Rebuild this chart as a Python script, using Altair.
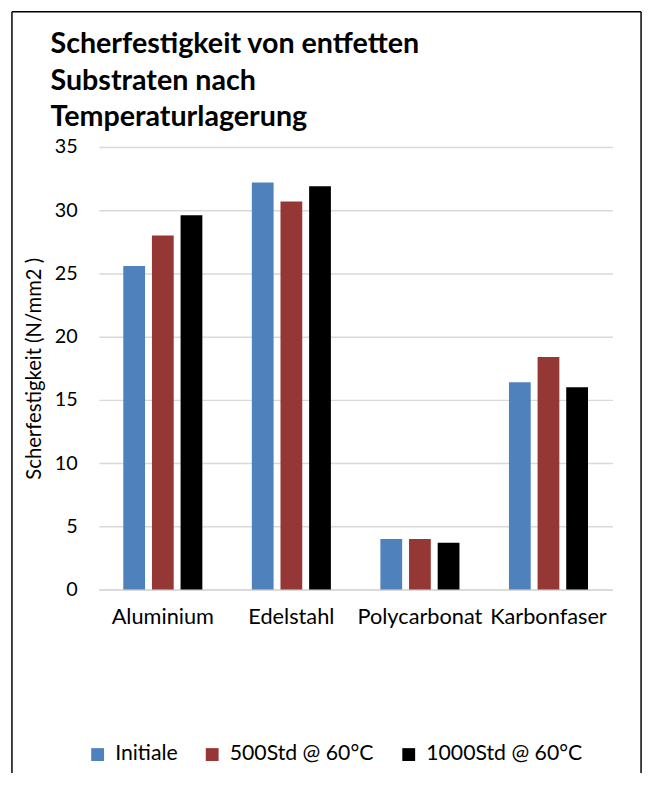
import altair as alt
import pandas as pd

categories = ["Aluminium", "Edelstahl", "Polycarbonat", "Karbonfaser"]
series = ["Initiale", "500Std @ 60°C", "1000Std @ 60°C"]
initiale = [25.6, 32.2, 4.0, 16.4]
std500 = [28.0, 30.7, 4.0, 18.4]
std1000 = [29.6, 31.9, 3.7, 16.0]
colors = ["#4F81BD", "#953735", "#000000"]
title_lines = ["Scherfestigkeit von entfetten", "Substraten  nach", "Temperaturlagerung"]

rows = []
for s, vals in zip(series, [initiale, std500, std1000]):
    for c, v in zip(categories, vals):
        rows.append({"Substrat": c, "Serie": s, "Wert": v})
df = pd.DataFrame(rows)

FONT = "Lato"

bars = alt.Chart(df).mark_bar().encode(
    x=alt.X("Substrat:N", sort=categories,
            scale=alt.Scale(paddingInner=0.385, paddingOuter=0.19),
            axis=alt.Axis(title=None, labelAngle=0, ticks=False, domainColor="#D9D9D9",
                          domainWidth=1.5, labelFontSize=22, labelColor="#000000",
                          labelFont=FONT, labelPadding=17)),
    xOffset=alt.XOffset("Serie:N", sort=series, scale=alt.Scale(paddingInner=0.24)),
    y=alt.Y("Wert:Q", scale=alt.Scale(domain=[0, 35]),
            axis=alt.Axis(values=[0, 5, 10, 15, 20, 25, 30, 35], title="Scherfestigkeit (N/mm2 )",
                          domain=False, ticks=False, gridColor="#D9D9D9", gridWidth=1.5,
                          labelFontSize=20, labelColor="#000000", labelFont=FONT, labelPadding=22,
                          titleFontSize=20.5, titleFontWeight="normal", titleColor="#000000",
                          titleFont=FONT, titleX=-55, titleY=224)),
    color=alt.Color("Serie:N", sort=series, scale=alt.Scale(domain=series, range=colors),
                    legend=alt.Legend(title=None, orient="none", direction="horizontal",
                                      legendX=-12, legendY=604, symbolType="square",
                                      symbolSize=169, symbolStrokeWidth=0, labelFontSize=21.5,
                                      labelFont=FONT, labelColor="#000000", columnPadding=24,
                                      labelOffset=7)),
)

one = pd.DataFrame({"k": [0]})
title = alt.Chart(one).mark_text(
    align="left", baseline="alphabetic", font=FONT, fontSize=29, fontWeight="bold",
    color="#000000", lineBreak="\n", lineHeight=37,
).encode(x=alt.value(-49), y=alt.value(-95), text=alt.value("\n".join(title_lines)))

left = alt.Chart(one).mark_rule(color="#000000", strokeWidth=1.5).encode(
    x=alt.value(-88), y=alt.value(-137), y2=alt.value(640))
top = alt.Chart(one).mark_rule(color="#000000", strokeWidth=1.5).encode(
    x=alt.value(-88), x2=alt.value(549), y=alt.value(-137))
right = alt.Chart(one).mark_rule(color="#000000", strokeWidth=1.5).encode(
    x=alt.value(549), y=alt.value(-137), y2=alt.value(640))

chart = alt.layer(bars, title, left, top, right).properties(
    width=520, height=448,
    autosize=alt.AutoSizeParams(type="none"),
    padding={"left": 92, "top": 136, "right": 34, "bottom": 181},
).configure_view(stroke=None)

chart.save("out.html", embed_options={"renderer": "svg", "actions": False})
